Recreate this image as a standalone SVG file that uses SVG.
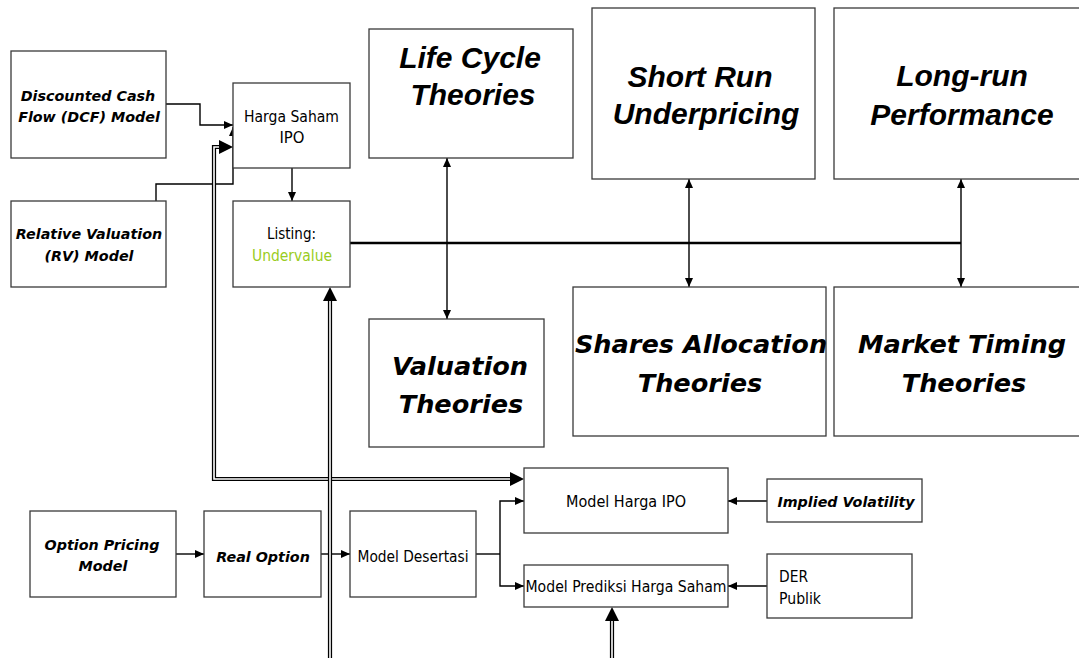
<svg xmlns="http://www.w3.org/2000/svg" width="1079" height="658" viewBox="0 0 1079 658">
<defs>
<style>
.box{fill:#fff;stroke:#3a3a3a;stroke-width:1.3}
.ln{fill:none;stroke:#000;stroke-width:1.4}
.bus{fill:none;stroke:#000;stroke-width:2.4}
.dbl{fill:none;stroke:#000;stroke-width:4.2}
.dbw{fill:none;stroke:#fff;stroke-width:1.6}
.bi{font-family:"DejaVu Sans",Verdana,sans-serif;font-weight:bold;font-style:italic;font-size:14.3px;text-anchor:middle;fill:#000}
.rg{font-family:"DejaVu Sans",Verdana,sans-serif;font-size:16px;text-anchor:middle;fill:#000}
.big{font-family:"Liberation Sans",Arial,sans-serif;font-weight:bold;font-style:italic;font-size:30px;text-anchor:middle;fill:#000}
.big2{font-family:"DejaVu Sans",Verdana,sans-serif;font-weight:bold;font-style:italic;font-size:25.6px;text-anchor:middle;fill:#000}
</style>
<marker id="a" markerUnits="userSpaceOnUse" markerWidth="10" markerHeight="9" refX="9" refY="4" orient="auto-start-reverse"><path d="M0,0 L9,4 L0,8 z" fill="#000"/></marker>
<marker id="A" markerUnits="userSpaceOnUse" markerWidth="15" markerHeight="15" refX="0" refY="7" orient="auto-start-reverse"><path d="M0,0 L14,7 L0,14 z" fill="#000"/></marker>
</defs>

<g id="connectors">
<path class="ln" d="M166,104 H200 V125 H233" marker-end="url(#a)"/>
<path class="ln" d="M156,244 V184 H233 V127" marker-end="url(#a)"/>
<path class="ln" d="M292,168 V201" marker-end="url(#a)"/>
<path class="bus" d="M350,243 H961"/>
<path class="ln" d="M447,158 V319" marker-start="url(#a)" marker-end="url(#a)"/>
<path class="ln" d="M689,179 V287" marker-start="url(#a)" marker-end="url(#a)"/>
<path class="ln" d="M961,179 V287" marker-start="url(#a)" marker-end="url(#a)"/>
<path class="ln" d="M176,554 H204" marker-end="url(#a)"/>
<path class="ln" d="M321,554 H350" marker-end="url(#a)"/>
<path class="ln" d="M476,554 H500"/>
<path class="ln" d="M524,501 H500 V586 H524" marker-start="url(#a)" marker-end="url(#a)"/>
<path class="ln" d="M767,501 H728" marker-end="url(#a)"/>
<path class="ln" d="M767,586 H728" marker-end="url(#a)"/>
<path class="dbl" d="M219,147 H214 V479 H510" marker-start="url(#A)" marker-end="url(#A)"/>
<path class="dbw" d="M219,147 H214 V479 H510"/>
<path class="dbl" d="M330,660 V301" marker-end="url(#A)"/>
<path class="dbw" d="M330,660 V301"/>
<path class="dbl" d="M612,660 V621" marker-end="url(#A)"/>
<path class="dbw" d="M612,660 V621"/>
</g>

<g id="dcf"><rect class="box" x="11" y="51" width="155" height="107"/>
<text class="bi" x="88" y="101">Discounted Cash</text><text class="bi" x="89" y="122">Flow (DCF) Model</text></g>
<g id="rv"><rect class="box" x="11" y="201" width="155" height="86"/>
<text class="bi" x="89" y="239">Relative Valuation</text><text class="bi" x="89" y="261">(RV) Model</text></g>
<g id="harga-saham-ipo"><rect class="box" x="233" y="83" width="117" height="85"/>
<text class="rg" x="291.5" y="122" textLength="95" lengthAdjust="spacingAndGlyphs">Harga Saham</text><text class="rg" x="292" y="143" textLength="25" lengthAdjust="spacingAndGlyphs">IPO</text></g>
<g id="listing"><rect class="box" x="233" y="201" width="117" height="86"/>
<text class="rg" x="291.5" y="239" textLength="49" lengthAdjust="spacingAndGlyphs">Listing:</text><text class="rg" x="292" y="261" textLength="80" lengthAdjust="spacingAndGlyphs" style="fill:#99cc22">Undervalue</text></g>
<g id="life-cycle"><rect class="box" x="369" y="29" width="204" height="129"/>
<text class="big" x="470" y="68">Life Cycle</text><text class="big" x="473" y="105">Theories</text></g>
<g id="short-run"><rect class="box" x="592" y="8" width="223" height="171"/>
<text class="big" x="700" y="87">Short Run</text><text class="big" x="706" y="124">Underpricing</text></g>
<g id="long-run"><rect class="box" x="834" y="8" width="260" height="171"/>
<text class="big" x="962" y="86">Long-run</text><text class="big" x="962" y="125">Performance</text></g>
<g id="valuation"><rect class="box" x="369" y="319" width="175" height="128"/>
<text class="big2" x="460" y="375">Valuation</text><text class="big2" x="461" y="413">Theories</text></g>
<g id="shares-allocation"><rect class="box" x="573" y="287" width="253" height="149"/>
<text class="big2" x="701" y="353">Shares Allocation</text><text class="big2" x="700" y="392">Theories</text></g>
<g id="market-timing"><rect class="box" x="834" y="287" width="260" height="149"/>
<text class="big2" x="962" y="353">Market Timing</text><text class="big2" x="964" y="392">Theories</text></g>
<g id="option-pricing"><rect class="box" x="30" y="511" width="146" height="86"/>
<text class="bi" x="102" y="550">Option Pricing</text><text class="bi" x="103" y="571">Model</text></g>
<g id="real-option"><rect class="box" x="204" y="511" width="117" height="86"/>
<text class="bi" x="263" y="562">Real Option</text></g>
<g id="model-desertasi"><rect class="box" x="350" y="511" width="126" height="86"/>
<text class="rg" x="413" y="562" textLength="111" lengthAdjust="spacingAndGlyphs">Model Desertasi</text></g>
<g id="model-harga-ipo"><rect class="box" x="524" y="468" width="204" height="65"/>
<text class="rg" x="626" y="507" textLength="120" lengthAdjust="spacingAndGlyphs">Model Harga IPO</text></g>
<g id="model-prediksi"><rect class="box" x="524" y="565" width="204" height="42"/>
<text class="rg" x="626" y="592" textLength="201" lengthAdjust="spacingAndGlyphs">Model Prediksi Harga Saham</text></g>
<g id="implied-volatility"><rect class="box" x="767" y="479" width="155" height="43"/>
<text class="bi" x="846" y="507">Implied Volatility</text></g>
<g id="der-publik"><rect class="box" x="767" y="554" width="145" height="64"/>
<text class="rg" x="779" y="582" style="text-anchor:start" textLength="29" lengthAdjust="spacingAndGlyphs">DER</text><text class="rg" x="779" y="604" style="text-anchor:start" textLength="42" lengthAdjust="spacingAndGlyphs">Publik</text></g>
</svg>
